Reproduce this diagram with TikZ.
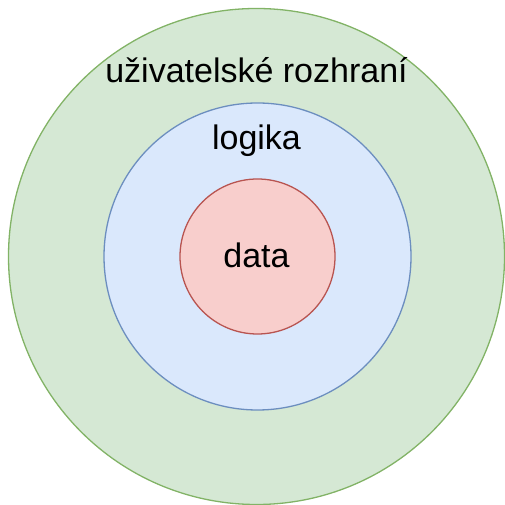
\documentclass[tikz,border=0pt]{standalone}
\usepackage{fontspec}
\setmainfont{Liberation Sans}
\definecolor{gfill}{HTML}{D5E8D4}
\definecolor{gdraw}{HTML}{82B366}
\definecolor{bfill}{HTML}{DAE8FC}
\definecolor{bdraw}{HTML}{6C8EBF}
\definecolor{rfill}{HTML}{F8CECC}
\definecolor{rdraw}{HTML}{B85450}
\begin{document}
\begin{tikzpicture}[x=1pt,y=1pt,
  ring/.style={circle,inner sep=0pt,line width=1.3pt},
  lbl/.style={anchor=base,inner sep=0pt,font=\fontsize{34}{38}\selectfont}]
\useasboundingbox (0,0) rectangle (505,505);
\node[ring,fill=gfill,draw=gdraw,minimum size=496pt] (outer) at (256.5,248.5) {};
\node[ring,fill=bfill,draw=bdraw,minimum size=307pt] (mid) at (257.5,248.5) {};
\node[ring,fill=rfill,draw=rdraw,minimum size=155pt] (inner) at (257.5,248.5) {};
\node[lbl] (t1) at (256.5,422) {uživatelské rozhraní};
\node[lbl] (t2) at (256.5,355) {logika};
\node[lbl] (t3) at (256.5,237) {data};
\end{tikzpicture}
\end{document}
